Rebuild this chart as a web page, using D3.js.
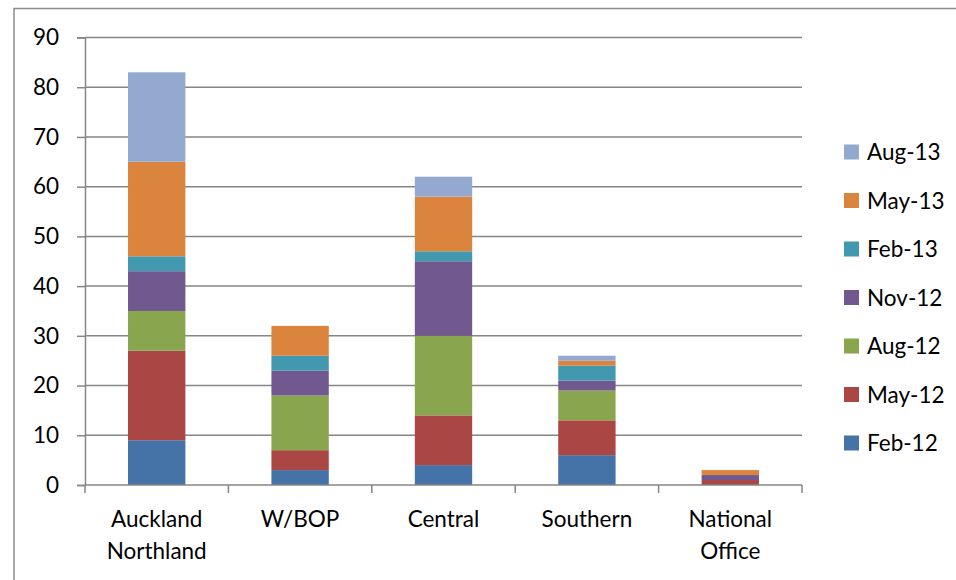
<!DOCTYPE html>
<html>
<head>
<meta charset="utf-8">
<script src="https://cdn.jsdelivr.net/npm/d3@7"></script>
<style>
  html, body { margin: 0; padding: 0; background: #fff; }
  svg { display: block; font-family: Lato, "Open Sans", sans-serif; }
</style>
</head>
<body>
<svg id="chart" width="956" height="580"></svg>
<script>
// Regions along the x axis (label lines split on "\n")
const regions = ["Auckland\nNorthland", "W/BOP", "Central", "Southern", "National\nOffice"];

// Quarterly counts per region, bottom of stack first
const feb12 = [9, 3, 4, 6, 0];
const may12 = [18, 4, 10, 7, 1];
const aug12 = [8, 11, 16, 6, 0];
const nov12 = [8, 5, 15, 2, 1];
const feb13 = [3, 3, 2, 3, 0];
const may13 = [19, 6, 11, 1, 1];
const aug13 = [18, 0, 4, 1, 0];

const seriesNames = ["Feb-12", "May-12", "Aug-12", "Nov-12", "Feb-13", "May-13", "Aug-13"];
const seriesValues = [feb12, may12, aug12, nov12, feb13, may13, aug13];
const seriesColors = ["#4572a7", "#aa4643", "#89a54e", "#71588f", "#4198af", "#db843d", "#93a9cf"];

const yTicks = [0, 10, 20, 30, 40, 50, 60, 70, 80, 90];

const svg = d3.select("#chart");
const plot = { left: 85, right: 802, top: 37.5, bottom: 485 };
const gridColor = "#868686";
const fontSize = 22.5;

// Outer chart frame
svg.append("rect")
  .attr("x", 14).attr("y", 8.5)
  .attr("width", 960).attr("height", 600)
  .attr("fill", "none").attr("stroke", "#8c8c8c").attr("stroke-width", 1.5);

const x = d3.scaleBand().domain(regions).range([plot.left, plot.right]).paddingInner(0.6).paddingOuter(0.3);
const y = d3.scaleLinear().domain([0, 90]).range([plot.bottom, plot.top]);

// Horizontal gridlines
svg.append("g").selectAll("line")
  .data(yTicks.filter(d => d > 0))
  .join("line")
  .attr("x1", plot.left).attr("x2", plot.right)
  .attr("y1", d => y(d)).attr("y2", d => y(d))
  .attr("stroke", gridColor).attr("stroke-width", 1.5);

// Stacked bars
const rows = regions.map((r, i) => {
  const o = { region: r };
  seriesNames.forEach((s, k) => { o[s] = seriesValues[k][i]; });
  return o;
});
const stacked = d3.stack().keys(seriesNames)(rows);

svg.append("g").selectAll("g")
  .data(stacked)
  .join("g")
  .attr("fill", (d, i) => seriesColors[i])
  .selectAll("rect")
  .data(d => d)
  .join("rect")
  .attr("x", d => x(d.data.region))
  .attr("width", x.bandwidth())
  .attr("y", d => y(d[1]))
  .attr("height", d => y(d[0]) - y(d[1]));

// Y axis
const yAxis = svg.append("g")
  .attr("transform", `translate(${plot.left},0)`)
  .call(d3.axisLeft(y).tickValues(yTicks).tickSize(8).tickPadding(18));
yAxis.select(".domain").attr("stroke", gridColor).attr("stroke-width", 1.5);
yAxis.selectAll(".tick line").attr("stroke", gridColor).attr("stroke-width", 1.5);
yAxis.selectAll(".tick text")
  .attr("font-family", "Lato, sans-serif").attr("font-size", fontSize).attr("fill", "#000");

// X axis with tick marks between categories
const boundaries = d3.range(regions.length + 1).map(i => plot.left + i * (plot.right - plot.left) / regions.length);
const xg = svg.append("g");
xg.append("line")
  .attr("x1", plot.left).attr("x2", plot.right)
  .attr("y1", plot.bottom).attr("y2", plot.bottom)
  .attr("stroke", gridColor).attr("stroke-width", 1.5);
xg.selectAll("line.tk")
  .data(boundaries)
  .join("line")
  .attr("class", "tk")
  .attr("x1", d => d).attr("x2", d => d)
  .attr("y1", plot.bottom).attr("y2", plot.bottom + 8)
  .attr("stroke", gridColor).attr("stroke-width", 1.5);

xg.selectAll("text")
  .data(regions)
  .join("text")
  .attr("text-anchor", "middle")
  .attr("font-size", fontSize)
  .attr("fill", "#000")
  .each(function (d) {
    const cx = x(d) + x.bandwidth() / 2;
    d3.select(this).selectAll("tspan")
      .data(d.split("\n"))
      .join("tspan")
      .attr("x", cx)
      .attr("y", (t, i) => 527 + i * 32)
      .text(t => t);
  });

// Legend, newest series at top
const legendOrder = d3.range(seriesNames.length).reverse();
const legend = svg.append("g").selectAll("g")
  .data(legendOrder)
  .join("g")
  .attr("transform", (k, i) => `translate(844, ${152 + i * 48.5})`);
legend.append("rect")
  .attr("x", 0).attr("y", -7.5).attr("width", 15).attr("height", 15)
  .attr("fill", k => seriesColors[k]);
legend.append("text")
  .attr("x", 23).attr("y", 0).attr("dy", "0.36em")
  .attr("font-size", fontSize).attr("fill", "#000")
  .text(k => seriesNames[k]);
</script>
</body>
</html>
